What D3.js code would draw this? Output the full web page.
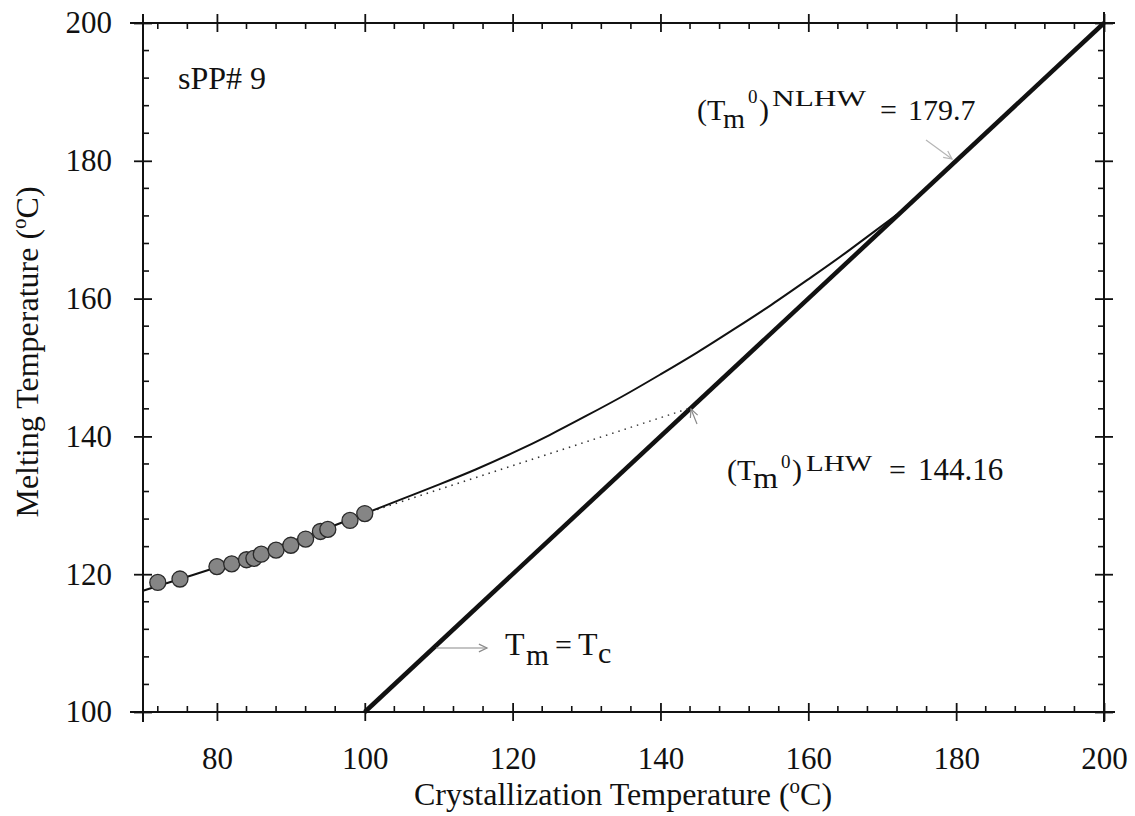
<!DOCTYPE html>
<html>
<head>
<meta charset="utf-8">
<script src="https://cdn.jsdelivr.net/npm/d3@7"></script>
<style>
  body { margin: 0; background: #fff; }
  text { font-family: "Liberation Serif", "Times New Roman", serif; fill: #111; }
</style>
</head>
<body>
<div id="chart-area"></div>
<script>
// measured points (crystallization temp, melting temp)
var tcData = [72, 75, 80, 82, 84, 85, 86, 88, 90, 92, 94, 95, 98, 100];
var tmData = [118.8, 119.3, 121.1, 121.5, 122.1, 122.3, 122.9, 123.5, 124.2, 125.1, 126.2, 126.5, 127.8, 128.8];

// non-linear Hoffman-Weeks fit
var fitTc = [70, 75, 80, 85, 90, 95, 100, 105, 110, 115, 120, 125, 130, 135, 140, 145, 150, 155, 160, 165, 168, 170, 172];
var fitTm = [117.6, 119.3, 121.0, 122.8, 124.7, 126.7, 128.8, 130.9, 133.0, 135.2, 137.6, 140.2, 143.0, 145.9, 149.0, 152.2, 155.6, 159.1, 162.8, 166.6, 169.0, 170.6, 172.2];

// linear Hoffman-Weeks extrapolation
var lhwTc = [100, 144.16];
var lhwTm = [128.8, 144.16];

// Tm = Tc
var eqTc = [100, 200];
var eqTm = [100, 200];

var xMajor = [80, 100, 120, 140, 160, 180, 200];
var yMajor = [100, 120, 140, 160, 180, 200];

var width = 1135, height = 816;
var svg = d3.select("#chart-area").append("svg")
    .attr("width", width)
    .attr("height", height);

var x = d3.scaleLinear().domain([70, 200]).range([143, 1104]);
var y = d3.scaleLinear().domain([100, 200]).range([712, 23]);

var xMinor = d3.range(72, 200, 4).filter(d => d % 20 !== 0);
var yMinor = d3.range(104, 200, 4).filter(d => d % 20 !== 0);

function styleAxis(g) {
    g.select(".domain").attr("stroke", "#111").attr("stroke-width", 2);
    g.selectAll(".tick line").attr("stroke", "#111").attr("stroke-width", 1.8);
    g.selectAll(".tick text").attr("font-size", 31).attr("fill", "#111")
        .attr("font-family", "Liberation Serif, Times New Roman, serif");
}

// bottom axis
var gx = svg.append("g").attr("transform", "translate(0,712)")
    .call(d3.axisBottom(x).tickValues(xMajor).tickSize(9).tickPadding(26).tickSizeOuter(0));
gx.selectAll(".tick line").attr("y1", -9);
gx.select(".domain").attr("d", "M130,0H1115");
styleAxis(gx);
gx.selectAll(".minor").data(xMinor).enter().append("line")
    .attr("x1", d => x(d)).attr("x2", d => x(d)).attr("y1", 0).attr("y2", -6)
    .attr("stroke", "#111").attr("stroke-width", 1.6);

// top axis
var gt = svg.append("g").attr("transform", "translate(0,23)")
    .call(d3.axisTop(x).tickValues(xMajor).tickSize(9).tickFormat("").tickSizeOuter(0));
gt.selectAll(".tick line").attr("y1", 9);
gt.select(".domain").attr("d", "M130,0H1115");
styleAxis(gt);
gt.selectAll(".minor").data(xMinor).enter().append("line")
    .attr("x1", d => x(d)).attr("x2", d => x(d)).attr("y1", 0).attr("y2", 6)
    .attr("stroke", "#111").attr("stroke-width", 1.6);

// left axis
var gy = svg.append("g").attr("transform", "translate(143,0)")
    .call(d3.axisLeft(y).tickValues(yMajor).tickSize(9).tickPadding(22).tickSizeOuter(0));
gy.selectAll(".tick line").attr("x1", 9);
gy.select(".domain").attr("d", "M0,14V722");
styleAxis(gy);
gy.selectAll(".minor").data(yMinor).enter().append("line")
    .attr("x1", 0).attr("x2", 6).attr("y1", d => y(d)).attr("y2", d => y(d))
    .attr("stroke", "#111").attr("stroke-width", 1.6);

// right axis
var gr = svg.append("g").attr("transform", "translate(1104,0)")
    .call(d3.axisRight(y).tickValues(yMajor).tickSize(9).tickFormat("").tickSizeOuter(0));
gr.selectAll(".tick line").attr("x1", -9);
gr.select(".domain").attr("d", "M0,12V722");
styleAxis(gr);
gr.selectAll(".minor").data(yMinor).enter().append("line")
    .attr("x1", 0).attr("x2", -6).attr("y1", d => y(d)).attr("y2", d => y(d))
    .attr("stroke", "#111").attr("stroke-width", 1.6);

var line = d3.line().x(d => x(d[0])).y(d => y(d[1]));

// Tm = Tc line
svg.append("path")
    .attr("d", line(d3.zip(eqTc, eqTm)))
    .attr("fill", "none").attr("stroke", "#111").attr("stroke-width", 4.5);

// dotted linear extrapolation
svg.append("path")
    .attr("d", line(d3.zip(lhwTc, lhwTm)))
    .attr("fill", "none").attr("stroke", "#333").attr("stroke-width", 1.5)
    .attr("stroke-dasharray", "1.5,5");

// non-linear fit curve
svg.append("path")
    .attr("d", d3.line().x(d => x(d[0])).y(d => y(d[1])).curve(d3.curveMonotoneX)(d3.zip(fitTc, fitTm)))
    .attr("fill", "none").attr("stroke", "#111").attr("stroke-width", 2);

// data points
svg.selectAll(".pt").data(d3.zip(tcData, tmData)).enter().append("circle")
    .attr("class", "pt")
    .attr("cx", d => x(d[0])).attr("cy", d => y(d[1])).attr("r", 8)
    .attr("fill", "#858585").attr("stroke", "#2a2a2a").attr("stroke-width", 1.3);

// axis titles
var xt = svg.append("text").attr("x", 623).attr("y", 805)
    .attr("text-anchor", "middle").attr("font-size", 32);
xt.append("tspan").text("Crystallization Temperature (");
xt.append("tspan").attr("dy", -12).attr("font-size", 21).text("o");
xt.append("tspan").attr("dy", 12).text("C)");

var yt = svg.append("text").attr("transform", "translate(38,352) rotate(-90)")
    .attr("text-anchor", "middle").attr("font-size", 32);
yt.append("tspan").text("Melting Temperature (");
yt.append("tspan").attr("dy", -12).attr("font-size", 21).text("o");
yt.append("tspan").attr("dy", 12).text("C)");

// sample label
svg.append("text").attr("x", 178).attr("y", 89).attr("font-size", 32).text("sPP# 9");

// equilibrium melting temperature labels, pieces placed one by one
function piece(px, py, size, str, len) {
    var t = svg.append("text").attr("x", px).attr("y", py).attr("font-size", size).text(str);
    if (len) t.attr("textLength", len).attr("lengthAdjust", "spacingAndGlyphs");
    return t;
}
piece(697, 120, 30, "(T");
piece(723, 128, 28, "m", 22);
piece(748, 103, 19, "0");
piece(759, 120, 30, ")");
piece(772, 106, 23, "NLHW", 94);
piece(880, 120, 30, "=");
piece(908, 120, 30, "179.7");

piece(727, 480, 30, "(T");
piece(753, 488, 29, "m", 25);
piece(781, 468, 19, "0");
piece(792, 480, 30, ")");
piece(806, 471, 23, "LHW", 66);
piece(889, 480, 30, "=");
piece(918, 480, 31, "144.16");

piece(505, 655, 32, "T");
piece(526, 665, 30, "m", 23);
piece(555, 655, 30, "=");
piece(578, 655, 32, "T");
piece(598, 663, 30, "c");

// small gray pointer arrows
function arrow(x1, y1, x2, y2, col) {
    var ang = Math.atan2(y2 - y1, x2 - x1), h = 9, a = 0.45;
    svg.append("line").attr("x1", x1).attr("y1", y1).attr("x2", x2).attr("y2", y2)
        .attr("stroke", col).attr("stroke-width", 1.2);
    svg.append("path")
        .attr("d", "M" + (x2 - h * Math.cos(ang - a)) + "," + (y2 - h * Math.sin(ang - a)) +
            "L" + x2 + "," + y2 +
            "L" + (x2 - h * Math.cos(ang + a)) + "," + (y2 - h * Math.sin(ang + a)))
        .attr("fill", "none").attr("stroke", col).attr("stroke-width", 1.2);
}
arrow(436, 648, 487, 648, "#8a8a8a");
arrow(926, 140, 952, 159, "#b5b5b5");
arrow(697, 424, 691, 409, "#8a8a8a");
</script>
</body>
</html>
